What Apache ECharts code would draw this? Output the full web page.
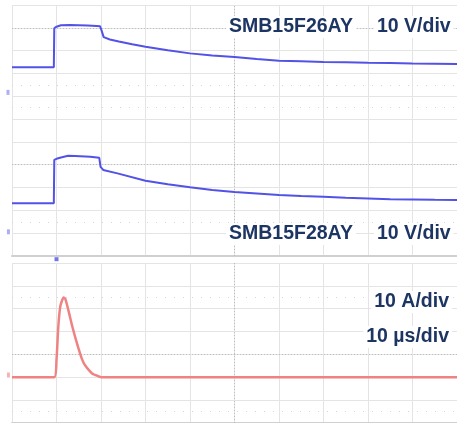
<!DOCTYPE html>
<html>
<head>
<meta charset="utf-8">
<style>
html, body { margin: 0; padding: 0; background: #fff; }
#main { width: 457px; height: 423px; }
</style>
<script src="https://cdn.jsdelivr.net/npm/echarts@6/dist/echarts.min.js"></script>
</head>
<body>
<div id="main"></div>
<script>
// time in µs (10 µs/div), trigger at 0
var timeRange = [-10, 90];

// SMB15F26AY voltage [µs, V]
var vTop = [
    [-10, 11.0], [-0.6, 11.0], [-0.5, 28.1], [0, 28.8], [1, 29.4], [3, 29.5], [5, 29.4],
    [7, 29.3], [9, 29.1], [9.8, 29.0], [10.1, 27.3], [10.6, 24.2], [12, 23.2], [14, 22.3],
    [17, 21.1], [20, 20.0], [25, 18.5], [30, 17.1], [35, 16.2], [40, 15.5], [45, 14.6],
    [50, 13.9], [55, 13.6], [60, 13.3], [65, 13.2], [70, 13.0], [75, 12.85], [80, 12.7],
    [85, 12.6], [90, 12.4]
];

// SMB15F28AY voltage [µs, V]
var vMid = [
    [-10, 12.5], [-0.6, 12.5], [-0.5, 31.5], [0, 32.0], [1, 32.6], [2.6, 33.3], [4.2, 33.2],
    [7.6, 32.9], [9.6, 32.5], [9.9, 28.5], [10.5, 27.1], [13.7, 25.6], [20, 22.4], [25, 20.8],
    [30, 19.5], [35, 18.3], [40, 17.4], [45, 16.8], [50, 16.1], [55, 15.7], [60, 15.35],
    [65, 14.9], [70, 14.65], [75, 14.3], [80, 14.2], [85, 14.0], [90, 13.9]
];

// surge current [µs, A]
var iPulse = [
    [-10, 0], [-0.5, 0], [0, 7.6], [0.4, 22], [0.85, 31], [1.6, 34.9], [2.0, 34.2],
    [2.65, 29.5], [3.55, 22.2], [4.7, 14.2], [5.8, 7.6], [6.5, 5.0], [8.0, 1.7],
    [9.6, 0.3], [10, 0], [90, 0]
];

// channel ranges (value at bottom / top of each screen)
var topRange = [-71.7, 38.3];
var midRange = [-10.6, 99.4];
var curRange = [-20, 50];

// graticule rows in divisions
var upperDivs = 11;
var lowerDivs = 7;
var upperCenters = [10, 4];
var lowerCenters = [3];
var upperHalfRows = [7.5, 6.5, 1.5];
var lowerHalfRows = [5.5, 0.5];

var labels = {
    top: 'SMB15F26AY',
    mid: 'SMB15F28AY',
    scaleV: '10 V/div',
    scaleA: '10 A/div',
    scaleT: '10 µs/div'
};

var gridColor = '#e4e4e4';
var blue = '#5252e6';
var red = '#ef8282';
var textColor = '#1d3562';
var font = 'bold 19.5px "Liberation Sans", Arial, sans-serif';

var myChart = echarts.init(document.getElementById('main'));

function decoration(xi, yi, centers, halfRows) {
    var center = { color: '#bdbdbd', type: [1, 2], width: 1 };
    return {
        type: 'line',
        xAxisIndex: xi,
        yAxisIndex: yi,
        data: [],
        silent: true,
        markLine: {
            silent: true,
            symbol: ['none', 'none'],
            label: { show: false },
            animation: false,
            data: centers.map(function (v) {
                return { yAxis: v, lineStyle: center };
            }).concat([{ xAxis: 40, lineStyle: center }])
              .concat(halfRows.map(function (v) {
                return { yAxis: v, lineStyle: { color: '#d6d6d6', type: [1, 8], width: 1 } };
            }))
        }
    };
}

function marker(xi, yi, pt, color, size) {
    return {
        type: 'scatter',
        xAxisIndex: xi,
        yAxisIndex: yi,
        clip: false,
        silent: true,
        symbol: 'rect',
        symbolSize: size,
        itemStyle: { color: color },
        data: [pt]
    };
}

function label(text, pos) {
    return Object.assign({ type: 'text', z: 10,
        style: { text: text, font: font, fill: textColor, backgroundColor: '#fff', padding: [1, 3] } }, pos);
}

var hiddenX = {
    type: 'value', min: timeRange[0], max: timeRange[1], interval: 10,
    axisTick: { show: false }, axisLabel: { show: false },
    splitLine: { lineStyle: { color: gridColor } }
};

option = {
    animation: false,
    grid: [
        { left: 12, top: 5, width: 445, height: 251 },
        { left: 12, top: 263, width: 445, height: 160 }
    ],
    xAxis: [
        Object.assign({}, hiddenX, { gridIndex: 0, position: 'bottom',
            axisLine: { show: true, lineStyle: { color: '#d0d0d0', width: 2 } } }),
        Object.assign({}, hiddenX, { gridIndex: 1, position: 'top',
            axisLine: { show: true, lineStyle: { color: '#d0d0d0', width: 2 } } })
    ],
    yAxis: [
        { gridIndex: 0, type: 'value', min: 0, max: upperDivs, interval: 1,
          axisLine: { show: false }, axisTick: { show: false }, axisLabel: { show: false },
          splitLine: { lineStyle: { color: gridColor } } },
        { gridIndex: 0, type: 'value', min: topRange[0], max: topRange[1], show: false, splitLine: { show: false } },
        { gridIndex: 0, type: 'value', min: midRange[0], max: midRange[1], show: false, splitLine: { show: false } },
        { gridIndex: 1, type: 'value', min: 0, max: lowerDivs, interval: 1,
          axisLine: { show: false }, axisTick: { show: false }, axisLabel: { show: false },
          splitLine: { lineStyle: { color: gridColor } } },
        { gridIndex: 1, type: 'value', min: curRange[0], max: curRange[1], show: false, splitLine: { show: false } }
    ],
    series: [
        decoration(0, 0, upperCenters, upperHalfRows),
        decoration(1, 3, lowerCenters, lowerHalfRows),
        {
            name: labels.top, type: 'line', xAxisIndex: 0, yAxisIndex: 1,
            data: vTop, showSymbol: false, z: 5,
            lineStyle: { color: blue, width: 2 }
        },
        {
            name: labels.mid, type: 'line', xAxisIndex: 0, yAxisIndex: 2,
            data: vMid, showSymbol: false, z: 5,
            lineStyle: { color: blue, width: 2 }
        },
        {
            name: 'current', type: 'line', xAxisIndex: 1, yAxisIndex: 4,
            data: iPulse, showSymbol: false, z: 5, smooth: 0.2,
            lineStyle: { color: red, width: 2.5 }
        },
        // ground markers and trigger marker
        marker(0, 1, [-10.9, 0], '#9a9af0', [3, 5]),
        marker(0, 2, [-10.8, 0], '#9a9af0', [3, 5]),
        marker(1, 4, [-10.8, 1], '#f2a0a0', [3, 5]),
        marker(0, 0, [0, -0.14], blue, 4)
    ],
    graphic: [
        label(labels.top, { left: 226, top: 16 }),
        label(labels.scaleV, { left: 374, top: 16 }),
        label(labels.mid, { left: 226, top: 223 }),
        label(labels.scaleV, { left: 374, top: 223 }),
        label(labels.scaleA, { right: 5, top: 291 }),
        label(labels.scaleT, { right: 5, top: 326 })
    ]
};

myChart.setOption(option);
</script>
</body>
</html>
